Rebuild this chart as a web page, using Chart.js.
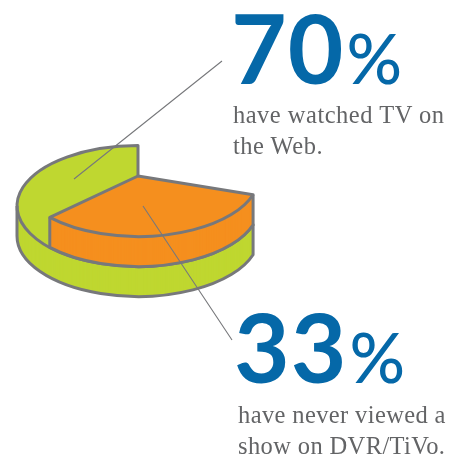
<!DOCTYPE html>
<html>
<head>
<meta charset="utf-8">
<style>
  html, body { margin: 0; padding: 0; background: #fff; }
  #wrap { position: relative; width: 463px; height: 458px; overflow: hidden; }
  canvas { position: absolute; left: 0; top: 0; }
  .big, .sub { position: absolute; white-space: nowrap; }
  .big { font-family: Lato, sans-serif; font-weight: 700; font-size: 96px; line-height: 96px; color: #0568a8; letter-spacing: 1px; }
  .big span { font-size: 69px; font-weight: 500; margin-left: 2px; letter-spacing: 0; }
  .sub { font-family: "Liberation Serif", serif; font-size: 24.5px; line-height: 31px; color: #636466; letter-spacing: 0.5px; }
</style>
<script src="https://cdn.jsdelivr.net/npm/chart.js@4"></script>
</head>
<body>
<div id="wrap">
  <canvas id="watchedPie" width="463" height="458"></canvas>
  <canvas id="neverPie" width="463" height="458"></canvas>
  <div class="big" id="big70" style="left:231px;top:-1px"></div>
  <div class="sub" id="sub70" style="left:233px;top:99px"></div>
  <div class="big" id="big33" style="left:234px;top:298px"></div>
  <div class="sub" id="sub33" style="left:238px;top:399px;letter-spacing:0.38px"></div>
</div>
<script>
const watchedValues = [70, 30];
const neverValues = [33, 67];
const sliceStart = 108;
const watchedText = ["have watched TV on", "the Web."];
const neverText = ["have never viewed a", "show on DVR/TiVo."];

const squash = 0.5;
const depth = 30;
const outline = "#77787b";

// squashes the flat pie into an ellipse and gives it a wall
const pie3d = {
  id: "pie3d",
  beforeDatasetsDraw(chart) {
    const ctx = chart.ctx;
    const arc = chart.getDatasetMeta(0).data[0];
    const { x, y, startAngle, endAngle, outerRadius } = arc;
    const ry = outerRadius * squash;

    for (let d = depth; d >= 0; d--) {
      ctx.save();
      ctx.translate(x, y + d);
      ctx.scale(1, squash);
      ctx.translate(-x, -y);
      arc.draw(ctx);
      ctx.restore();
    }

    ctx.save();
    ctx.strokeStyle = outline;
    ctx.lineWidth = 3;
    ctx.lineJoin = "round";

    // top face
    ctx.beginPath();
    ctx.moveTo(x, y);
    ctx.ellipse(x, y, outerRadius, ry, 0, startAngle, endAngle);
    ctx.closePath();
    ctx.stroke();

    // front wall, only the part turned to the viewer
    const wallEnd = Math.min(endAngle, Math.PI);
    ctx.beginPath();
    ctx.moveTo(x + outerRadius * Math.cos(startAngle), y + ry * Math.sin(startAngle));
    ctx.lineTo(x + outerRadius * Math.cos(startAngle), y + ry * Math.sin(startAngle) + depth);
    ctx.ellipse(x, y + depth, outerRadius, ry, 0, startAngle, wallEnd);
    ctx.lineTo(x + outerRadius * Math.cos(wallEnd), y + ry * Math.sin(wallEnd));
    ctx.stroke();
    ctx.restore();
    return false;
  },
};

// leader lines from the slices to the big numbers
const leaders = {
  id: "leaders",
  afterDraw(chart) {
    const ctx = chart.ctx;
    ctx.save();
    ctx.strokeStyle = outline;
    ctx.lineWidth = 1.1;
    ctx.beginPath();
    ctx.moveTo(222, 61);
    ctx.lineTo(74, 179);
    ctx.moveTo(143, 206);
    ctx.lineTo(232, 340);
    ctx.stroke();
    ctx.restore();
  },
};

function makePie(id, values, color, padding, extra) {
  return new Chart(document.getElementById(id), {
    type: "pie",
    data: {
      labels: ["yes", "no"],
      datasets: [{
        data: values,
        backgroundColor: [color, "rgba(0,0,0,0)"],
        borderWidth: 0,
      }],
    },
    options: {
      responsive: false,
      animation: false,
      rotation: sliceStart,
      layout: { padding },
      plugins: { legend: { display: false }, tooltip: { enabled: false } },
    },
    plugins: [pie3d].concat(extra),
  });
}

makePie("watchedPie", watchedValues, "#bfd730", { left: 17, right: 204, top: 85, bottom: 131 }, []);
makePie("neverPie", neverValues, "#f58f1e", { left: 17, right: 204, top: 55, bottom: 161 }, [leaders]);

document.getElementById("big70").innerHTML = watchedValues[0] + "<span>%</span>";
document.getElementById("big33").innerHTML = neverValues[0] + "<span>%</span>";
document.getElementById("sub70").innerHTML = watchedText.join("<br>");
document.getElementById("sub33").innerHTML = neverText.join("<br>");
</script>
</body>
</html>
